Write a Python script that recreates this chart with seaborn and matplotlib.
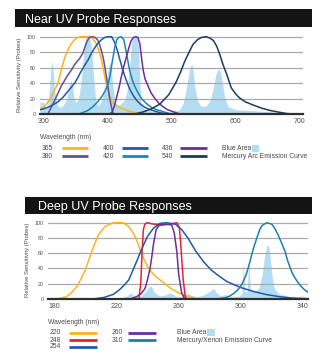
import numpy as np
import pandas as pd
import matplotlib
matplotlib.use('Agg')
import matplotlib.pyplot as plt
import seaborn as sns
from matplotlib.patches import Rectangle
from matplotlib.lines import Line2D

# ---------------- data: Near UV panel ----------------
near_title = "Near UV Probe Responses"
near_xticks = [300, 400, 500, 600, 700]
yticks = [0, 20, 40, 60, 80, 100]

nm_365 = [294, 300, 305, 311, 316, 322, 326, 330, 334, 338, 343, 348, 353, 358, 365, 371, 376, 382, 386, 390, 393, 396, 400, 405, 410, 416, 421, 427, 433, 440, 447, 452]
val_365 = [7, 9, 14, 21, 30, 40, 53, 66, 76, 84, 91, 96, 99, 100, 100, 100, 98, 91, 82, 70, 58, 45, 31, 18, 13, 10, 8, 6, 4, 3, 1, 0]

nm_380 = [306, 311, 317, 322, 327, 332, 337, 343, 348, 352, 356, 361, 364, 367, 371, 376, 380, 384, 387, 390, 393, 396, 400, 403, 406, 409]
val_380 = [0, 8, 18, 27, 36, 43, 50, 57, 64, 68, 72, 79, 86, 93, 99, 100, 99, 96, 90, 82, 72, 58, 36, 20, 8, 0]

nm_400 = [294, 300, 306, 314, 322, 330, 337, 343, 348, 353, 358, 363, 369, 374, 379, 384, 390, 395, 400, 406, 411, 415, 419, 423, 427, 431, 435, 440, 445, 451, 458, 466, 474, 482, 490, 498]
val_400 = [6, 7, 9, 12, 16, 22, 29, 35, 40, 47, 55, 62, 70, 78, 85, 91, 96, 99, 100, 100, 92, 82, 70, 58, 48, 39, 31, 24, 18, 13, 9, 6, 4, 2, 1, 0]

nm_420 = [353, 360, 369, 377, 384, 390, 395, 400, 403, 407, 411, 414, 417, 421, 425, 429, 434, 438, 442, 447, 453, 460, 468, 476, 484, 492, 500]
val_420 = [0, 2, 5, 10, 16, 22, 29, 38, 48, 68, 87, 96, 99, 100, 96, 79, 57, 45, 36, 28, 20, 14, 9, 6, 4, 2, 0]

nm_436 = [400, 406, 410, 414, 418, 421, 425, 429, 433, 436, 440, 444, 447, 450, 452.5, 455, 458, 463, 468, 474, 480, 486, 493, 500, 507, 513]
val_436 = [0, 2, 10, 23, 36, 48, 62, 74, 86, 94, 99, 100, 99, 91, 74, 58, 46, 36, 27, 20, 14, 10, 6, 4, 2, 0]

nm_540 = [440, 455, 468, 481, 495, 507, 514, 520, 527, 533, 540, 546, 554, 560, 565, 570, 575, 580, 586, 593, 600, 606, 615, 627, 640, 653, 666, 679, 692, 700]
val_540 = [0, 3, 7, 13, 25, 42, 55, 68, 80, 90, 96, 99, 100, 98, 95, 88, 77, 64, 51, 34, 26, 21, 16, 12, 8, 5, 3, 1, 0, 0]

hg_nm = [294, 300, 303, 306, 309, 311, 312.5, 314, 317, 320, 324, 328, 332, 336, 339, 342, 344, 347, 350, 353, 356, 360, 363, 366, 372, 375, 378, 381, 384, 388, 392, 396, 400, 403, 405, 408, 411, 414, 418, 422, 426, 430, 434, 437, 440, 446, 448, 450, 452, 456, 462, 470, 480, 495, 505, 512, 518, 522, 526, 529, 531, 533, 536, 540, 545, 550, 555, 560, 565, 569, 573, 576, 579, 583, 588, 600, 620, 640, 660, 680, 700]
hg_val = [16, 15, 7, 10, 35, 60, 68, 60, 30, 14, 9, 10, 14, 20, 35, 44, 40, 22, 15, 18, 28, 55, 90, 100, 100, 80, 45, 18, 11, 14, 22, 35, 55, 68, 62, 35, 18, 11, 12, 15, 18, 30, 60, 92, 100, 100, 85, 40, 15, 8, 5, 4, 3, 3, 4, 6, 15, 30, 50, 62, 65, 58, 35, 18, 11, 10, 12, 18, 35, 52, 59, 55, 40, 20, 10, 6, 5, 4, 3, 2, 1]

near_probes = ["365", "380", "400", "420", "436", "540"]
near_colors = ["#F9B520", "#5E5394", "#2159A6", "#1B86B0", "#6A2E9E", "#1D3A63"]
near_area_label = "Blue Area"
near_curve_label = "Mercury Arc Emission Curve"

# ---------------- data: Deep UV panel ----------------
deep_title = "Deep UV Probe Responses"
deep_xticks = [180, 220, 260, 300, 340]

nm_220 = [176, 180, 184, 188, 191, 194.6, 197.5, 200, 203, 205.3, 208.5, 212.8, 218, 224.5, 228, 231, 233.5, 236, 238.5, 241, 245, 250, 255, 260, 265, 272]
val_220 = [0, 0, 1, 3, 8, 16, 27, 38, 55, 68, 84, 95, 100, 100, 95, 86, 75, 60, 49, 39, 30, 22, 14, 8, 4, 0]

nm_248 = [234.5, 235.7, 236.6, 237.4, 238.3, 239.6, 244, 249, 254, 258.9, 260.5, 261.3, 262, 263, 264.2, 265]
val_248 = [0, 20, 63, 91, 98, 100, 98, 97, 98, 100, 94, 75, 54, 25, 5, 0]

nm_254 = [205, 212, 218, 222, 225, 228, 232, 236, 240, 244, 248, 252, 258, 262, 266, 271, 276, 281, 286, 291, 300, 308, 316, 325, 334, 343]
val_254 = [0, 2, 6, 12, 18, 25, 44, 64, 82, 93, 99, 100, 98, 91, 80, 63, 49, 38, 30, 23, 15, 10, 6, 3, 1, 0]

nm_260 = [229, 233, 236, 238.5, 240, 241.7, 243, 243.8, 245.6, 247.7, 252, 255.6, 257.3, 258.9, 260.1, 262, 264]
val_260 = [0, 3, 7, 14, 25, 40, 58, 71, 91, 97, 98, 97, 86, 62, 32, 8, 0]

nm_310 = [282, 286, 290, 293, 296, 298.5, 300.6, 302.3, 303.8, 305.5, 307, 308.7, 310.3, 312, 313.5, 316.7, 320, 322, 324, 326.3, 328.5, 330, 331.7, 333.3, 335, 337, 339, 341, 343.2]
val_310 = [0, 0.5, 1.5, 4, 8, 13, 19, 26, 34, 46, 58, 70, 80, 90, 96, 100, 98, 92, 84, 73, 62, 51, 41, 33, 27, 21, 16, 12, 9]

xe_nm = [222, 224, 227, 229, 231, 233, 236, 239, 241, 242.5, 244, 246, 248, 251, 254, 256, 258, 261, 264, 266, 268, 272, 276, 280, 282.5, 284, 287, 290, 293, 296, 299, 300.8, 301.7, 302.5, 304, 305.3, 306.2, 308, 310, 312, 314, 315.5, 317, 318, 319, 320, 321, 322, 325, 328, 331, 334, 336, 339, 341, 343]
xe_val = [0, 2, 4, 8, 5, 3, 4, 10, 16, 17, 10, 6, 4, 5, 8, 7, 4, 3, 5, 8, 5, 3, 5, 10, 14, 9, 4, 6, 4, 3, 4, 8, 50, 10, 9, 50, 11, 10, 11, 16, 35, 60, 71, 69, 52, 32, 18, 12, 6, 5, 3, 4, 3, 4, 3, 2]

deep_probes = ["220", "248", "254", "260", "310"]
deep_colors = ["#F9B520", "#E8232D", "#2159A6", "#6A2E9E", "#1B80AA"]
deep_area_label = "Blue Area"
deep_curve_label = "Mercury/Xenon Emission Curve"

axis_title = "Wavelength (nm)"
ylabel = "Relative Sensitivity (Probes)"

# ---------------- styling / layout ----------------
sns.set_style("white")
plt.rcParams['font.family'] = ['Liberation Sans', 'DejaVu Sans']

W, H = 328, 363
AREA = "#B3DDF2"
TXT = "#4a4a4a"

fig = plt.figure(figsize=(W / 100, H / 100), dpi=100)
fig.patch.set_facecolor("white")


def fx(px):
    return px / W


def fy(py):
    return 1 - py / H


def make_axes(x0, x1, y0px, y100px, ymax=103):
    unit = (y0px - y100px) / 100.0
    top = y0px - ymax * unit
    return fig.add_axes([fx(x0), fy(y0px), (x1 - x0) / W, (y0px - top) / H]), ymax


def draw_panel(ax, ymax, probes, colors, xs, ys, area_x, area_y, xlim, xticks):
    ax.fill_between(area_x, area_y, 0, color=AREA, lw=0, zorder=0.3)
    df = pd.concat([pd.DataFrame({"nm": x, "val": y, "probe": p})
                    for p, x, y in zip(probes, xs, ys)], ignore_index=True)
    sns.lineplot(data=df, x="nm", y="val", hue="probe", hue_order=probes,
                 palette=dict(zip(probes, colors)), estimator=None,
                 legend=False, ax=ax, lw=1.1, zorder=2)
    ax.set_xlim(*xlim)
    ax.set_ylim(0, ymax)
    ax.set_xticks(xticks)
    ax.set_yticks(yticks)
    ax.set_facecolor("none")
    for s in ["top", "left", "right"]:
        ax.spines[s].set_visible(False)
    ax.spines["bottom"].set_color("#2e2e2e")
    ax.spines["bottom"].set_linewidth(1.6)
    ax.set_axisbelow(True)
    ax.yaxis.grid(True, color="#a9a9a9", lw=0.9)
    ax.xaxis.grid(False)
    ax.tick_params(axis="x", length=0, pad=3, labelsize=5, labelcolor=TXT)
    ax.tick_params(axis="y", length=0, pad=3, labelsize=3.8, labelcolor=TXT)
    ax.set_ylabel(ylabel, fontsize=4.2, color=TXT, labelpad=3.5)
    ax.set_xlabel(axis_title, fontsize=4.9, color=TXT, loc="left", labelpad=6)


def title_bar(x0, x1, y0, y1, text, tx):
    fig.add_artist(Rectangle((fx(x0), fy(y1)), (x1 - x0) / W, (y1 - y0) / H,
                             transform=fig.transFigure, color="#141414", lw=0))
    fig.text(fx(tx), fy((y0 + y1) / 2), text, color="white", fontsize=9,
             ha="left", va="center_baseline")


def legend_item(label, color, tx, lx0, lx1, y):
    fig.text(fx(tx), fy(y), label, fontsize=4.9, color=TXT, ha="left", va="center")
    fig.add_artist(Line2D([fx(lx0), fx(lx1)], [fy(y), fy(y)], transform=fig.transFigure,
                          color=color, lw=2.0, solid_capstyle="butt"))


def legend_area(area_text, curve_text, tx, y1, y2, sq):
    t = fig.text(fx(tx), fy(y1), area_text, fontsize=4.9, color=TXT, ha="left", va="center")
    fig.text(fx(tx), fy(y2), curve_text, fontsize=4.9, color=TXT, ha="left", va="center")
    x0, x1, yy0, yy1 = sq
    fig.add_artist(Rectangle((fx(x0), fy(yy1)), (x1 - x0) / W, (yy1 - yy0) / H,
                             transform=fig.transFigure, color=AREA, lw=0))


# ---- Near UV ----
title_bar(15, 312, 9, 27, near_title, 25)
ax1, ym1 = make_axes(40, 303, 114.3, 36.7)
draw_panel(ax1, ym1, near_probes, near_colors,
           [nm_365, nm_380, nm_400, nm_420, nm_436, nm_540],
           [val_365, val_380, val_400, val_420, val_436, val_540],
           hg_nm, hg_val, (294, 705), near_xticks)

cols1 = [(42, 61.7, 88.3), (103, 121.7, 148.3), (162, 180, 206.7)]
rows1 = [148.3, 156]
for i, (p, c) in enumerate(zip(near_probes, near_colors)):
    tx, l0, l1 = cols1[i // 2]
    legend_item(p, c, tx, l0, l1, rows1[i % 2])
legend_area(near_area_label, near_curve_label, 221.7, 148.3, 156, (252.3, 259.3, 145, 151.7))

# ---- Deep UV ----
title_bar(25, 312, 197, 214, deep_title, 38)
ax2, ym2 = make_axes(48, 308, 299, 222.7)
draw_panel(ax2, ym2, deep_probes, deep_colors,
           [nm_220, nm_248, nm_254, nm_260, nm_310],
           [val_220, val_248, val_254, val_260, val_310],
           xe_nm, xe_val, (176.1, 343.2), deep_xticks)

cols2 = [(50, 69, 96.7), (111.7, 128.3, 156)]
rows2 = [332.7, 340, 346.7]
for i, (p, c) in enumerate(zip(deep_probes, deep_colors)):
    tx, l0, l1 = cols2[i // 3]
    legend_item(p, c, tx, l0, l1, rows2[i % 3])
legend_area(deep_area_label, deep_curve_label, 176.7, 332.7, 340, (207.3, 215, 329.3, 335.5))

fig.savefig("out.png", dpi=100, facecolor="white")
